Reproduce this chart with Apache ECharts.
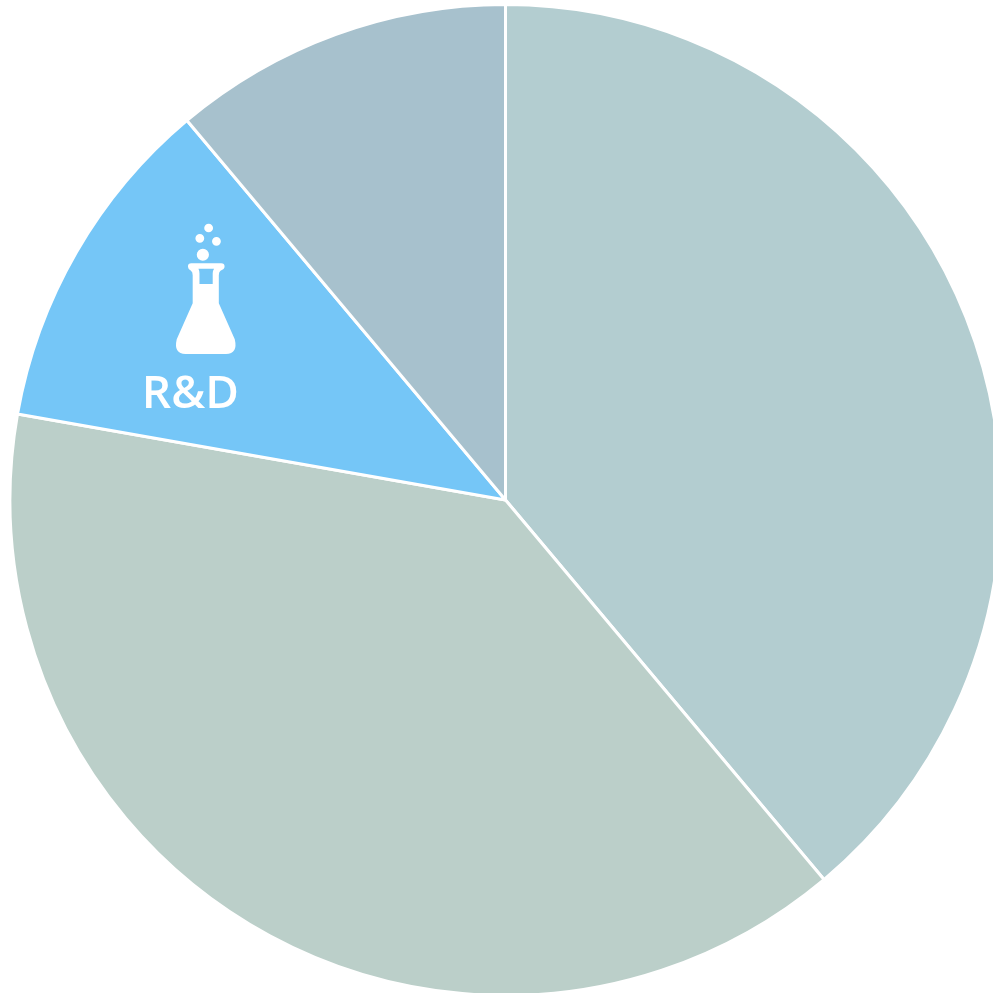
<!DOCTYPE html>
<html><head><meta charset="utf-8">
<style>html,body{margin:0;padding:0;background:#fff}#c{width:993px;height:993px}</style>
<script src="https://cdn.jsdelivr.net/npm/echarts@6/dist/echarts.min.js"></script>
</head><body><div id="c"></div>
<script>
const categories = ['', ' ', 'R&D', '  '];
const values = [35, 35, 10, 10];
const colors = ['#B3CDD0', '#BBCFC9', '#75C6F7', '#A7C1CD'];
const flask = 'M204 170 Q204 160 214 160 L302 160 Q312 160 312 170 Q312 177 300 182 Q295 186 295 196 L295 280 L342 388 Q352 432 316 432 L197 432 Q161 432 171 388 L218 280 L218 196 Q218 186 213 182 Q204 177 204 170 Z ' +
  'M235 176 Q238 182 238 190 L238 222 L277 222 L277 190 Q277 182 281 176 Z ' +
  'M230 134 A18 18 0 1 0 266 134 A18 18 0 1 0 230 134 Z ' +
  'M226 85 A13 13 0 1 0 252 85 A13 13 0 1 0 226 85 Z ' +
  'M275 94 A13 13 0 1 0 301 94 A13 13 0 1 0 275 94 Z ' +
  'M252 54 A13 13 0 1 0 278 54 A13 13 0 1 0 252 54 Z';
const chart = echarts.init(document.getElementById('c'), null, {renderer:'canvas'});
chart.setOption({
  animation:false,
  series:[{
    type:'pie', center:[505.5,500], radius:[0,495.5], startAngle:90, clockwise:true,
    silent:true,
    itemStyle:{borderColor:'#fff', borderWidth:3},
    labelLine:{show:false},
    label:{show:false},
    data:categories.map((n,i)=>({
      name:n, value:values[i], itemStyle:{color:colors[i]},
      label: n==='R&D' ? {show:true, position:'inside', formatter:'{b}', color:'#fff',
        fontFamily:'Open Sans', fontWeight:600, fontSize:46, offset:[-98,20]} : {show:false}
    }))
  },{
    type:'custom', coordinateSystem:'none', silent:true, z:100, data:[[0]],
    renderItem:function(){
      return {type:'path',
        shape:{pathData:flask, layout:'cover', x:176, y:223.7, width:59.5, height:130.3},
        style:{fill:'#fff'}};
    }
  }]
});
</script></body></html>
